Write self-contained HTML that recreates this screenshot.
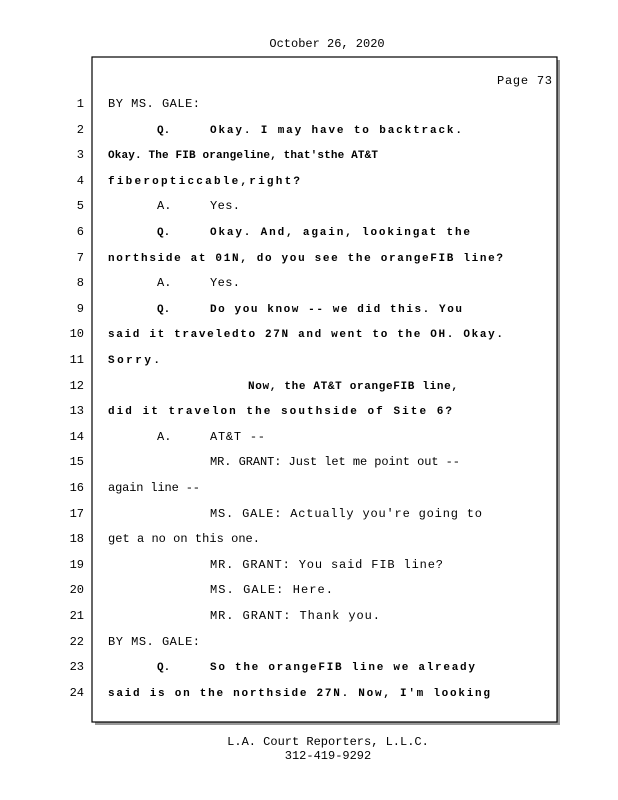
<!DOCTYPE html>
<html><head><meta charset="utf-8"><style>
html,body{margin:0;padding:0;background:#fff;width:618px;height:800px;overflow:hidden}
svg text{font-family:"Liberation Mono",monospace;font-size:12px;fill:#000}
svg text.b{font-weight:bold;font-size:11px}
.n{text-anchor:end}
</style></head><body>
<svg width="618" height="800" xmlns="http://www.w3.org/2000/svg">
<text x="327" y="47" text-anchor="middle">October 26, 2020</text>
<rect x="95" y="60" width="465" height="665" fill="#999"/>
<rect x="92" y="57" width="465" height="665" fill="#fff" stroke="#000" stroke-width="1.2"/>
<text x="497" y="84" textLength="55">Page 73</text>
<g>
<text class="n" x="84" y="107">1</text>
<text class="n" x="84" y="133">2</text>
<text class="n" x="84" y="158">3</text>
<text class="n" x="84" y="184">4</text>
<text class="n" x="84" y="209">5</text>
<text class="n" x="84" y="235">6</text>
<text class="n" x="84" y="261">7</text>
<text class="n" x="84" y="286">8</text>
<text class="n" x="84" y="312">9</text>
<text class="n" x="84" y="337">10</text>
<text class="n" x="84" y="363">11</text>
<text class="n" x="84" y="389">12</text>
<text class="n" x="84" y="414">13</text>
<text class="n" x="84" y="440">14</text>
<text class="n" x="84" y="465">15</text>
<text class="n" x="84" y="491">16</text>
<text class="n" x="84" y="517">17</text>
<text class="n" x="84" y="542">18</text>
<text class="n" x="84" y="568">19</text>
<text class="n" x="84" y="593">20</text>
<text class="n" x="84" y="619">21</text>
<text class="n" x="84" y="645">22</text>
<text class="n" x="84" y="670">23</text>
<text class="n" x="84" y="696">24</text>
</g>
<text x="108" y="107" textLength="92">BY MS. GALE:</text>
<text class="b" x="157" y="133">Q.</text>
<text class="b" x="210" y="133" textLength="252">Okay. I may have to backtrack.</text>
<text class="b" x="108" y="158" textLength="270">Okay. The FIB orangeline, that'sthe AT&amp;T</text>
<text class="b" x="108" y="184" textLength="192">fiberopticcable,right?</text>
<text x="157" y="209">A.</text>
<text x="210" y="209" textLength="30">Yes.</text>
<text class="b" x="157" y="235">Q.</text>
<text class="b" x="210" y="235" textLength="260">Okay. And, again, lookingat the</text>
<text class="b" x="108" y="261" textLength="395">northside at 01N, do you see the orangeFIB line?</text>
<text x="157" y="286">A.</text>
<text x="210" y="286" textLength="30">Yes.</text>
<text class="b" x="157" y="312">Q.</text>
<text class="b" x="210" y="312" textLength="252">Do you know -- we did this.  You</text>
<text class="b" x="108" y="337" textLength="395">said it traveledto 27N and went to the OH.  Okay.</text>
<text class="b" x="108" y="363" textLength="52">Sorry.</text>
<text class="b" x="248" y="389" textLength="210">Now, the AT&amp;T orangeFIB line,</text>
<text class="b" x="108" y="414" textLength="344">did it travelon the southside of Site 6?</text>
<text x="157" y="440">A.</text>
<text x="210" y="440" textLength="55">AT&amp;T --</text>
<text x="210" y="465" textLength="250">MR. GRANT:  Just let me point out --</text>
<text x="108" y="491" textLength="92">again line --</text>
<text x="210" y="517" textLength="272">MS. GALE:  Actually you're going to</text>
<text x="108" y="542" textLength="152">get a no on this one.</text>
<text x="210" y="568" textLength="233">MR. GRANT:  You said FIB line?</text>
<text x="210" y="593" textLength="123">MS. GALE:  Here.</text>
<text x="210" y="619" textLength="170">MR. GRANT:  Thank you.</text>
<text x="108" y="645" textLength="92">BY MS. GALE:</text>
<text class="b" x="157" y="670">Q.</text>
<text class="b" x="210" y="670" textLength="265">So the orangeFIB line we already</text>
<text class="b" x="108" y="696" textLength="382">said is on the northside 27N.  Now, I'm looking</text>
<text x="328" y="745" text-anchor="middle">L.A. Court Reporters, L.L.C.</text>
<text x="328" y="759" text-anchor="middle">312-419-9292</text>
</svg>
</body></html>
